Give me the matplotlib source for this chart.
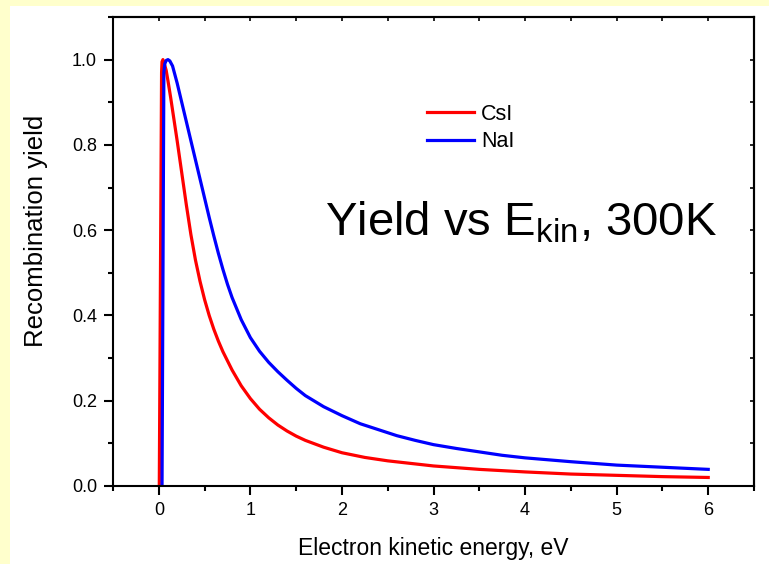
import matplotlib
matplotlib.use('Agg')
import matplotlib.pyplot as plt
from matplotlib.patches import Rectangle
from matplotlib.ticker import MultipleLocator

plt.rcParams['font.family'] = ['Liberation Sans', 'DejaVu Sans']

# recombination yield vs electron kinetic energy (eV)
csi_e = [0.005, 0.03, 0.035, 0.045, 0.06, 0.08, 0.10, 0.13, 0.16, 0.20, 0.25,
         0.30, 0.35, 0.40, 0.45, 0.50, 0.55, 0.60, 0.65, 0.70, 0.80, 0.90, 1.00,
         1.10, 1.20, 1.30, 1.40, 1.50, 1.60, 1.80, 2.00, 2.25, 2.50, 2.75, 3.00,
         3.50, 4.00, 4.50, 5.00, 5.50, 6.00]
csi_y = [0.0, 0.97, 0.995, 1.0, 0.99, 0.975, 0.95, 0.91, 0.867, 0.81, 0.735,
         0.66, 0.59, 0.53, 0.48, 0.437, 0.40, 0.368, 0.34, 0.315, 0.272, 0.235,
         0.205, 0.18, 0.16, 0.143, 0.129, 0.117, 0.107, 0.091, 0.078, 0.067,
         0.059, 0.053, 0.047, 0.039, 0.033, 0.028, 0.025, 0.022, 0.020]

nai_e = [0.035, 0.055, 0.065, 0.08, 0.10, 0.12, 0.15, 0.20, 0.25, 0.30, 0.35,
         0.40, 0.45, 0.50, 0.55, 0.60, 0.65, 0.70, 0.75, 0.80, 0.90, 1.00, 1.10,
         1.20, 1.30, 1.40, 1.50, 1.60, 1.80, 2.00, 2.20, 2.40, 2.60, 2.80, 3.00,
         3.25, 3.50, 3.75, 4.00, 4.50, 5.00, 5.50, 6.00]
nai_y = [0.0, 0.97, 0.99, 0.998, 1.0, 0.997, 0.985, 0.945, 0.9, 0.855, 0.81,
         0.765, 0.72, 0.675, 0.63, 0.587, 0.546, 0.508, 0.473, 0.442, 0.39, 0.348,
         0.316, 0.29, 0.268, 0.248, 0.229, 0.212, 0.186, 0.165, 0.146, 0.132,
         0.118, 0.107, 0.097, 0.088, 0.080, 0.072, 0.066, 0.057, 0.049, 0.044,
         0.039]

fig = plt.figure(figsize=(7.69, 5.64), dpi=100, facecolor='#FFFFCC')
# white panel over the pale yellow page
fig.add_artist(Rectangle((10 / 769, 0), 1, 1 - 6 / 564, transform=fig.transFigure,
                         facecolor='white', edgecolor='none', zorder=-10))

ax = fig.add_axes([0.147, 0.1383, 0.8335, 0.8316])
ax.set_facecolor('white')

ax.plot(csi_e, csi_y, color='#FF0000', lw=2.3, label='CsI', solid_joinstyle='round')
ax.plot(nai_e, nai_y, color='#0000FF', lw=2.3, label='NaI', solid_joinstyle='round')

ax.set_xlim(-0.5, 6.5)
ax.set_ylim(0, 1.1)
ax.xaxis.set_major_locator(MultipleLocator(1))
ax.xaxis.set_minor_locator(MultipleLocator(0.5))
ax.yaxis.set_major_locator(MultipleLocator(0.2))
ax.yaxis.set_minor_locator(MultipleLocator(0.1))
ax.yaxis.set_major_formatter(plt.FuncFormatter(lambda v, p: f'{v:.1f}'))

for s in ax.spines.values():
    s.set_linewidth(1.5)
ax.tick_params(which='major', direction='out', length=6.5, width=1.5, labelsize=13)
ax.tick_params(axis='x', which='major', pad=5)
ax.tick_params(axis='y', which='major', pad=5)
ax.tick_params(which='minor', direction='out', length=3.5, width=1.5)

# short inward ticks on the top and right frame
top = ax.secondary_xaxis('top')
top.xaxis.set_major_locator(MultipleLocator(1))
top.xaxis.set_minor_locator(MultipleLocator(0.5))
top.tick_params(which='both', direction='in', length=3, width=1.2, labeltop=False)
right = ax.secondary_yaxis('right')
right.yaxis.set_major_locator(MultipleLocator(0.2))
right.yaxis.set_minor_locator(MultipleLocator(0.1))
right.tick_params(which='both', direction='in', length=3, width=1.2, labelright=False)
for sec in (top, right):
    for s in sec.spines.values():
        s.set_linewidth(1.5)

ax.set_xlabel('Electron kinetic energy, eV', fontsize=16.5, labelpad=13)
ax.set_ylabel('Recombination yield', fontsize=18.5)
ax.yaxis.set_label_coords(-0.101, 0.544)

ax.legend(loc='upper left', bbox_to_anchor=(0.49, 0.815), frameon=False,
          borderpad=0, borderaxespad=0, fontsize=15.5, handlelength=2.2,
          handletextpad=0.3, labelspacing=0.3)

ax.text(0.33, 0.534, r'Yield vs E$_{\mathregular{kin}}$, 300K', transform=ax.transAxes,
        fontsize=34, va='baseline')

fig.savefig('out.png', dpi=100, facecolor=fig.get_facecolor())
